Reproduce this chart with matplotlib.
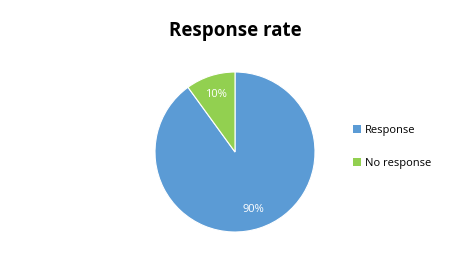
import matplotlib
matplotlib.use("Agg")
import matplotlib.pyplot as plt
from matplotlib.patches import Patch

# 数据
labels = ["Response", "No response"]
values = [90, 10]
colors = ["#5B9BD5", "#92D050"]

plt.rcParams["font.family"] = ["Open Sans", "DejaVu Sans"]

fig = plt.figure(figsize=(4.70, 2.54), dpi=100)
ax = fig.add_axes([155 / 470, 22 / 254, 160 / 470, 160 / 254])

wedges, texts, autotexts = ax.pie(
    values, colors=colors, startangle=90, counterclock=False,
    autopct="%1.0f%%", pctdistance=0.76,
    wedgeprops={"edgecolor": "white", "linewidth": 0.8},
    textprops={"color": "white", "fontsize": 8},
)
ax.set_xlim(-1, 1)
ax.set_ylim(-1, 1)
ax.set_aspect("equal")

fig.text(235 / 470, 1 - 31 / 254, "Response rate", ha="center", va="center",
         fontsize=13.5, fontweight="bold", color="black")

handles = [Patch(facecolor=c, edgecolor="none") for c in colors]
fig.legend(handles, labels, loc="center left", bbox_to_anchor=(343 / 470, 1 - 147 / 254),
           frameon=False, fontsize=8, handlelength=0.7, handleheight=0.7,
           handletextpad=0.4, labelspacing=2.0)

fig.savefig("out.png", dpi=100)
